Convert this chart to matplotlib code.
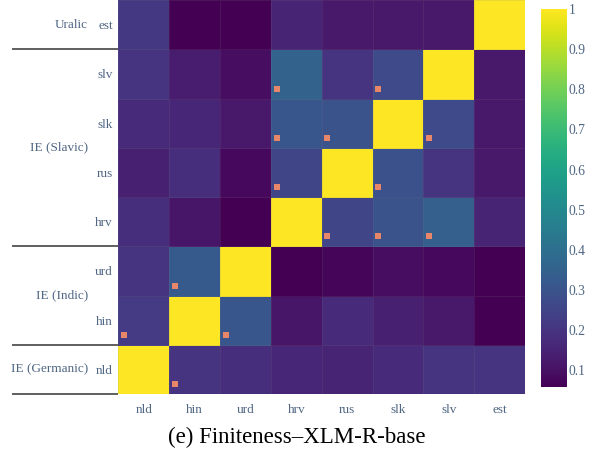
import matplotlib
matplotlib.use("Agg")
import matplotlib.pyplot as plt
import matplotlib.transforms as mtransforms
import numpy as np

# languages along the x axis (left to right) and y axis (bottom to top)
langs = ['nld', 'hin', 'urd', 'hrv', 'rus', 'slk', 'slv', 'est']

# similarity rows, bottom row (nld) first, columns in the order of langs
row_nld = [1.00, 0.20, 0.18, 0.16, 0.15, 0.17, 0.20, 0.20]
row_hin = [0.22, 1.00, 0.31, 0.11, 0.17, 0.14, 0.12, 0.06]
row_urd = [0.20, 0.32, 1.00, 0.06, 0.07, 0.09, 0.08, 0.06]
row_hrv = [0.18, 0.11, 0.06, 1.00, 0.25, 0.30, 0.34, 0.15]
row_rus = [0.14, 0.18, 0.08, 0.25, 1.00, 0.29, 0.20, 0.12]
row_slk = [0.17, 0.16, 0.12, 0.31, 0.30, 1.00, 0.27, 0.12]
row_slv = [0.20, 0.13, 0.09, 0.35, 0.20, 0.27, 1.00, 0.12]
row_est = [0.21, 0.06, 0.06, 0.15, 0.12, 0.12, 0.12, 1.00]

# cells flagged with a small square: (row lang, column lang)
flagged = [('slv', 'hrv'), ('slv', 'slk'),
           ('slk', 'hrv'), ('slk', 'rus'), ('slk', 'slv'),
           ('rus', 'hrv'), ('rus', 'slk'),
           ('hrv', 'rus'), ('hrv', 'slk'), ('hrv', 'slv'),
           ('urd', 'hin'),
           ('hin', 'nld'), ('hin', 'urd'),
           ('nld', 'hin')]

# language families: (label, first row index, last row index + 1)
families = [('IE (Germanic)', 0, 1), ('IE (Indic)', 1, 3),
            ('IE (Slavic)', 3, 7), ('Uralic', 7, 8)]

matrix = np.array([row_nld, row_hin, row_urd, row_hrv,
                   row_rus, row_slk, row_slv, row_est])

tick_color = '#506784'
serif = ['Liberation Serif', 'DejaVu Serif']
plt.rcParams['font.family'] = serif

fig = plt.figure(figsize=(5.93, 4.61), dpi=100)
ax = fig.add_axes([0.1998, 0.1453, 0.6855, 0.8547])
cax = fig.add_axes([0.9123, 0.1605, 0.0438, 0.820])

mesh = ax.pcolormesh(np.arange(9), np.arange(9), matrix, cmap='viridis',
                     vmin=0.058, vmax=1.0, edgecolors=(0.5, 0.5, 0.5, 0.15),
                     linewidth=0.5)
ax.set_xlim(0, 8)
ax.set_ylim(0, 8)

# small markers in the lower-left corner of flagged cells
for r, c in flagged:
    ax.plot(langs.index(c) + 0.11, langs.index(r) + 0.2, 's',
            color='#e8866a', markersize=3.8, markeredgewidth=0)

ax.set_xticks(np.arange(8) + 0.5)
ax.set_xticklabels(langs)
ax.set_yticks(np.arange(8) + 0.5)
ax.set_yticklabels(langs)
ax.tick_params(length=0, labelsize=9.5, labelcolor=tick_color)
ax.tick_params(axis='x', pad=7)
ax.tick_params(axis='y', pad=4)
for s in ax.spines.values():
    s.set_visible(False)

# family labels and separators on the left
trans = mtransforms.blended_transform_factory(ax.transAxes, ax.transData)
for name, lo, hi in families:
    ax.text(-0.075, (lo + hi) / 2, name, transform=trans, ha='right',
            va='center', fontsize=9.5, color=tick_color)
for y in [0, 1, 3, 7]:
    ax.plot([-0.262, 0], [y, y], transform=trans, color='#444444',
            linewidth=1.2, clip_on=False, solid_capstyle='butt')

cb = fig.colorbar(mesh, cax=cax)
cb.outline.set_visible(False)
cb.set_ticks([0.1, 0.2, 0.3, 0.4, 0.5, 0.6, 0.7, 0.8, 0.9, 1.0])
cb.set_ticklabels(['0.1', '0.2', '0.3', '0.4', '0.5', '0.6', '0.7',
                   '0.8', '0.9', '1'])
cax.tick_params(length=0, labelsize=9.8, labelcolor=tick_color, pad=1)

fig.text(0.5, 0.052, '(e) Finiteness\u2013XLM-R-base', ha='center',
         va='center', fontsize=16.5, color='black')

fig.savefig('out.png', dpi=100)
